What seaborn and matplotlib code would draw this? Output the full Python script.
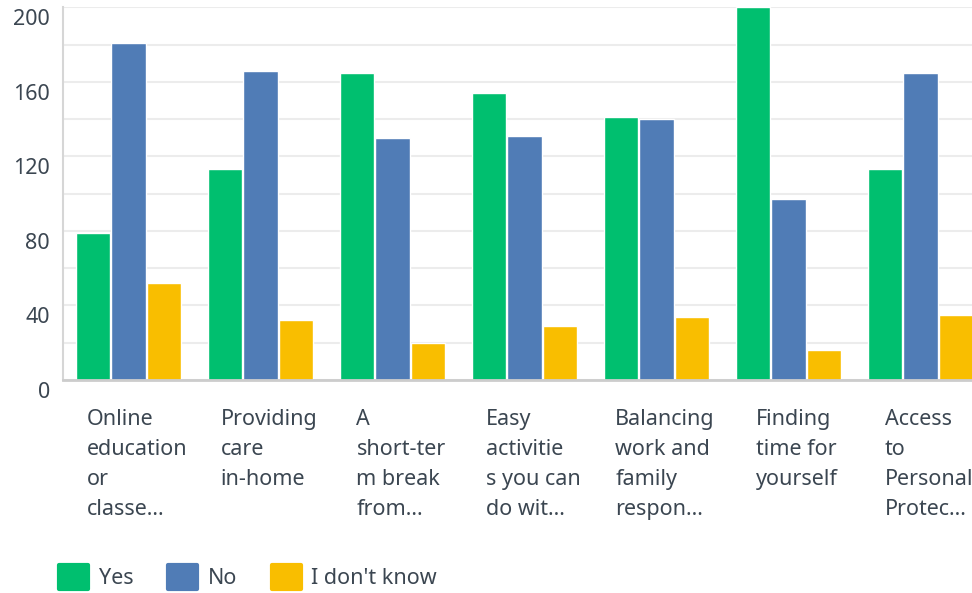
import matplotlib
matplotlib.use("Agg")
import matplotlib.pyplot as plt
from matplotlib.transforms import ScaledTranslation
import seaborn as sns
import pandas as pd

# values
categories = [
    "Online\neducation\nor\nclasse...",
    "Providing\ncare\nin-home",
    "A\nshort-ter\nm break\nfrom...",
    "Easy\nactivitie\ns you can\ndo wit...",
    "Balancing\nwork and\nfamily\nrespon...",
    "Finding\ntime for\nyourself",
    "Access\nto\nPersonal\nProtec...",
]
answers = ["Yes", "No", "I don't know"]
yes_counts = [79, 113, 165, 154, 141, 200, 113]
no_counts = [181, 166, 130, 131, 140, 97, 165]
idk_counts = [52, 32, 20, 29, 34, 16, 35]
y_ticks = [0, 40, 80, 120, 160, 200]
colors = ["#00bf6f", "#507cb6", "#f9be00"]

df = pd.DataFrame({
    "category": categories * 3,
    "answer": [a for a in answers for _ in categories],
    "count": yes_counts + no_counts + idk_counts,
})

sns.set_style("white")
plt.rcParams["font.family"] = ["Noto Sans", "DejaVu Sans"]
text_color = "#3b4651"

fig = plt.figure(figsize=(9.72, 5.93), dpi=100)
ax = fig.add_axes([62.5 / 972, 213 / 593, 924 / 972, 372.7 / 593])

sns.barplot(
    data=df,
    x="category",
    y="count",
    hue="answer",
    palette=colors,
    width=0.8,
    gap=0.025,
    saturation=1,
    ax=ax,
)

ax.set_ylim(0, 200)
ax.set_xlim(-0.5, 6.5)
ax.set_xlabel("")
ax.set_ylabel("")

# light grid every 20, labels every 40
ax.set_yticks(y_ticks)
ax.set_yticks([20, 60, 100, 140, 180], minor=True)
ax.grid(axis="y", which="both", color="#ececec", linewidth=1.5)
ax.set_axisbelow(True)
ax.tick_params(axis="y", which="both", length=0, pad=9, labelsize=15.5, labelcolor=text_color)
ax.tick_params(axis="x", length=0, pad=21, labelsize=15.5, labelcolor=text_color)

for lab in ax.get_yticklabels():
    lab.set_transform(lab.get_transform() + ScaledTranslation(0, -0.1, fig.dpi_scale_trans))
for lab in ax.get_xticklabels():
    lab.set_multialignment("left")
    lab.set_linespacing(1.55)
    lab.set_transform(lab.get_transform() + ScaledTranslation(0.085, 0, fig.dpi_scale_trans))

for side in ["top", "right"]:
    ax.spines[side].set_visible(False)
ax.spines["left"].set_color("#d6d6d6")
ax.spines["left"].set_linewidth(1.5)
ax.spines["bottom"].set_color("#cccccc")
ax.spines["bottom"].set_linewidth(2)

sns.move_legend(
    ax,
    "center left",
    bbox_to_anchor=(59 / 972, 16 / 593),
    bbox_transform=fig.transFigure,
    ncol=3,
    frameon=False,
    title=None,
    fontsize=15.5,
    borderpad=0,
    borderaxespad=0,
    handlelength=1.35,
    handleheight=1.35,
    handletextpad=0.5,
    columnspacing=1.6,
)
leg = ax.get_legend()
for h in leg.legend_handles:
    h.set_edgecolor(h.get_facecolor())
    h.set_linewidth(3)
    h.set_joinstyle("round")
for t in leg.get_texts():
    t.set_color(text_color)

fig.savefig("out.png", dpi=100)
